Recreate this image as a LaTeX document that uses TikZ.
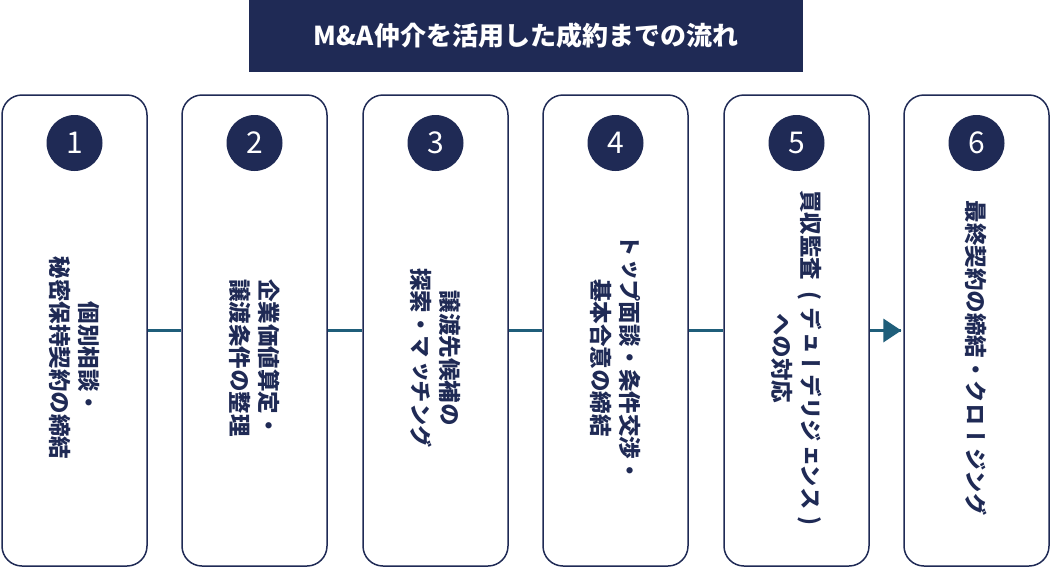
\documentclass[tikz,border=0pt]{standalone}
\usepackage{fontspec}
\newfontfamily\cjk{Noto Sans CJK JP}
\newfontfamily\cjkv[Vertical=RotatedGlyphs]{Noto Sans CJK JP}
\definecolor{navy}{HTML}{1F2A55}
\definecolor{teal}{HTML}{1F5E7A}
\begin{document}
\begin{tikzpicture}[x=1pt,y=-1pt,
  box/.style={draw=navy,line width=1.5pt,rounded corners=20pt},
  num/.style={circle,fill=navy,minimum size=56pt,inner sep=0pt,text=white,font=\cjk\fontsize{30}{30}\selectfont},
  vt/.style={rotate=-90,align=center,text=navy,font=\cjkv\bfseries\fontsize{22.5}{29}\selectfont},
  link/.style={draw=teal,line width=3pt}]
\useasboundingbox (0,0) rectangle (1052,568);
\node[fill=navy,minimum width=554pt,minimum height=72pt,text=white,font=\cjk\bfseries\fontsize{26}{26}\selectfont] (title) at (526,36) {M\&A仲介を活用した成約までの流れ};
\foreach \i/\x/\t in {1/74.5/{個別相談・\\秘密保持契約の締結},2/254.5/{企業価値算定・\\譲渡条件の整理},3/435.5/{譲渡先候補の\\探索・マッチング},4/615.5/{トップ面談・条件交渉・\\基本合意の締結},5/796.5/{買収監査\hspace{0.5em}(\hspace{0.3em}デューデリジェンス\hspace{0.3em})\\への対応},6/976.5/{最終契約の締結・クロージング}}{
  \node[box,minimum width=145pt,minimum height=471pt] (b\i) at (\x,330.5) {};
  \node[num] (n\i) at (\x,143) {\i};
  \node[vt] (t\i) at (\x,358) {\t};
}
\foreach \a/\b in {1/2,2/3,3/4,4/5}{\draw[link] (b\a.east) -- (b\b.west);}
\coordinate (e) at ([xshift=-2pt]b6.west);
\draw[link] (b5.east) -- (e);
\fill[teal] (e) ++(-18,-12) -- ++(18,12) -- ++(-18,12) -- cycle;
\end{tikzpicture}
\end{document}
